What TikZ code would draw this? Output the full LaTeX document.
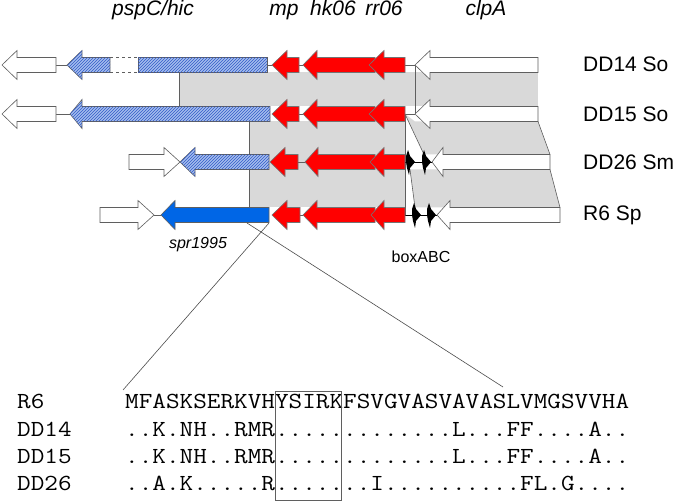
\documentclass[tikz,border=0pt]{standalone}
\usepackage{fontspec}
\setmainfont{Liberation Sans}
\newcommand{\seqrow}[1]{\scalebox{1.15}[1]{#1}}
\usetikzlibrary{patterns}
\definecolor{genered}{RGB}{255,0,0}
\definecolor{spblue}{RGB}{0,102,230}
\definecolor{hatchbg}{RGB}{165,190,238}
\definecolor{hatchline}{RGB}{50,90,200}
\definecolor{homgray}{RGB}{217,217,217}
\definecolor{edgegray}{RGB}{95,95,95}
% gene arrow: style, tail x, tip x, head base x, row y
\newcommand{\genearrow}[5]{%
  \draw[#1] (#3,#5) -- (#4,#5-14.5) -- (#4,#5-7.5) -- (#2,#5-7.5)
    -- (#2,#5+7.5) -- (#4,#5+7.5) -- (#4,#5+14.5) -- cycle;}
% promoter box: x, row y
\newcommand{\promoterbox}[2]{%
  \fill[black] (#1+2,#2-12) -- (#1+4,#2-6) -- (#1+9,#2) -- (#1+4,#2+6)
    -- (#1+3,#2+13) -- (#1+1,#2+6) -- (#1,#2) -- (#1,#2-6) -- cycle;}
\tikzset{
  gene/.style={draw=edgegray, line width=0.6pt},
  redgene/.style={gene, fill=genered, draw=black!55},
  whitegene/.style={gene, fill=white},
  bluegene/.style={gene, fill=spblue},
  hatchgene/.style={gene, fill=hatchbg, postaction={pattern=north east lines, pattern color=hatchline}},
  homology/.style={fill=homgray},
  link/.style={draw=edgegray, line width=0.6pt},
  strain/.style={font=\fontsize{21}{24}\selectfont, anchor=west, inner sep=0pt},
  genelabel/.style={font=\fontsize{21}{24}\selectfont\itshape, anchor=base, inner sep=0pt},
  smalllabel/.style={font=\fontsize{16}{18}\selectfont, inner sep=0pt},
  seqtext/.style={font=\ttfamily\fontsize{23}{24}\selectfont, anchor=base west, inner sep=0pt},
}
\begin{document}
\begin{tikzpicture}[x=1pt, y=-1pt]
\useasboundingbox (0,0) rectangle (680,502);

% homology shading
\path[homology] (179,72.5) rectangle (538,106.5);
\path[homology] (249,121.5) rectangle (405,207.5);
\path[homology] (405,114) -- (424,154.5) -- (550,154.5) -- (538,121.5) -- (415,121.5) -- cycle;
\path[homology] (410,169.5) -- (415,207.5) -- (560,207.5) -- (550,169.5) -- cycle;
\draw[link] (179,72.5) -- (179,106.5);
\draw[link] (249,121.5) -- (249,207.5);
\draw[link] (405,114) -- (405,215);
\draw[link] (415,65) -- (415,114);
\draw[link] (405,114) -- (424,154.5);
\draw[link] (410,169.5) -- (415,207.5);
\draw[link] (538,121.5) -- (550,154.5);
\draw[link] (550,169.5) -- (560,207.5);

% DD14 So
\draw[link] (56,65) -- (67,65);
\draw[link] (267,65) -- (303,65);
\draw[link] (405,65) -- (415,65);
\genearrow{whitegene}{56}{2}{17}{65}
\genearrow{hatchgene}{110}{67}{82}{65}
\draw[link, dashed] (110,57.5) -- (138,57.5) (110,72.5) -- (138,72.5);
\draw[hatchgene] (138,57.5) rectangle (267,72.5);
\genearrow{redgene}{299}{272}{287}{65}
\genearrow{redgene}{375}{303}{317}{65}
\genearrow{redgene}{405}{369}{384}{65}
\genearrow{whitegene}{538}{415}{430}{65}

% DD15 So
\draw[link] (56,114) -- (70,114);
\draw[link] (299,114) -- (303,114);
\draw[link] (405,114) -- (415,114);
\genearrow{whitegene}{56}{2}{17}{114}
\genearrow{hatchgene}{270}{70}{82}{114}
\genearrow{redgene}{299}{272}{287}{114}
\genearrow{redgene}{375}{303}{317}{114}
\genearrow{redgene}{405}{369}{384}{114}
\genearrow{whitegene}{538}{415}{430}{114}

% DD26 Sm
\draw[link] (298,162) -- (305,162);
\draw[link, black] (405,162) -- (432,162);
\genearrow{whitegene}{129}{180}{164}{162}
\genearrow{hatchgene}{269}{180}{195}{162}
\genearrow{redgene}{298}{270}{285}{162}
\genearrow{redgene}{375}{305}{318}{162}
\genearrow{redgene}{405}{370}{384}{162}
\promoterbox{406}{162}
\promoterbox{422}{162}
\genearrow{whitegene}{550}{432}{443}{162}

% R6 Sp
\draw[link] (154,215) -- (161,215);
\draw[link] (300,215) -- (303,215);
\draw[link, black] (405,215) -- (437,215);
\genearrow{whitegene}{100}{154}{138}{215}
\genearrow{bluegene}{269}{161}{175}{215}
\genearrow{redgene}{300}{272}{287}{215}
\genearrow{redgene}{375}{303}{317}{215}
\genearrow{redgene}{405}{371}{384}{215}
\promoterbox{412}{215}
\promoterbox{427}{215}
\genearrow{whitegene}{560}{437}{450}{215}

% labels
\node[genelabel] (pspc) at (153,16) {pspC/hic};
\node[genelabel] (mp) at (284,16) {mp};
\node[genelabel] (hk) at (333,16) {hk06};
\node[genelabel] (rr) at (384,16) {rr06};
\node[genelabel] (clpa) at (486,16) {clpA};
\node[strain] (dd14) at (583,64) {DD14 So};
\node[strain] (dd15) at (583,114) {DD15 So};
\node[strain] (dd26) at (583,162) {DD26 Sm};
\node[strain] (r6) at (583,215) {R6 Sp};
\node[smalllabel, font=\fontsize{16}{18}\selectfont\itshape] (spr) at (198,245) {spr1995};
\node[smalllabel] (boxabc) at (421,257) {boxABC};

% alignment
\node[seqtext] (r6name) at (17,409) {\seqrow{R6}};
\node[seqtext] (dd14name) at (17,436) {\seqrow{DD14}};
\node[seqtext] (dd15name) at (17,463) {\seqrow{DD15}};
\node[seqtext] (dd26name) at (17,490) {\seqrow{DD26}};
\node[seqtext] (r6seq) at (125,409) {\seqrow{MFASKSERKVHYSIRKFSVGVASVAVASLVMGSVVHA}};
\node[seqtext] (dd14seq) at (125,436) {\seqrow{..K.NH..RMR.............L...FF....A..}};
\node[seqtext] (dd15seq) at (125,463) {\seqrow{..K.NH..RMR.............L...FF....A..}};
\node[seqtext] (dd26seq) at (125,490) {\seqrow{..A.K.....R.......I..........FL.G....}};
\draw[link] (275,391) rectangle (341,500);

% zoom lines
\coordinate (sprL) at (247,223);
\coordinate (sprR) at (269,223);
\coordinate (seqL) at (123,390);
\coordinate (seqR) at (503,387);
\draw[link, black!70] (sprR) -- (seqL);
\draw[link, black!70] (sprL) -- (seqR);
\end{tikzpicture}
\end{document}
